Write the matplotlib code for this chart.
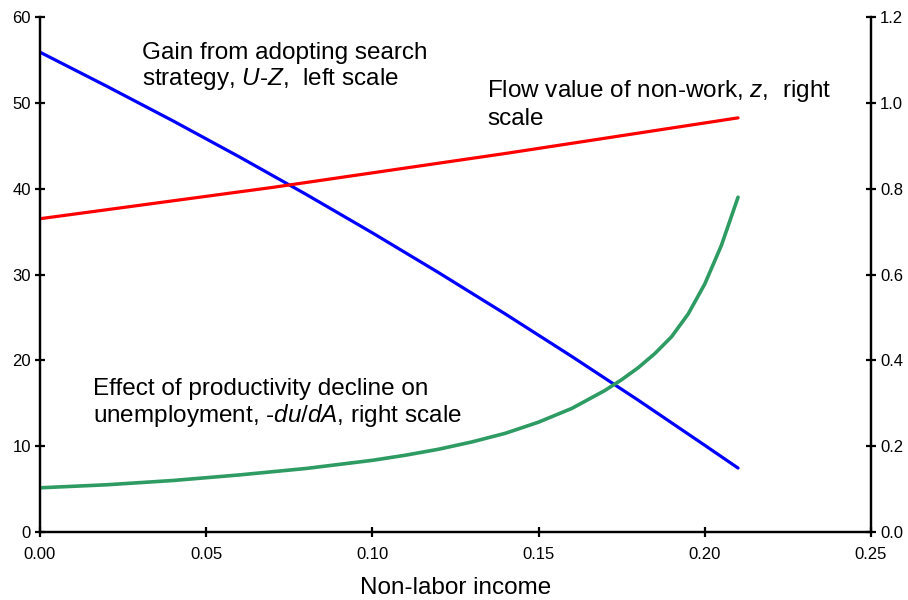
import matplotlib
matplotlib.use('Agg')
import matplotlib.pyplot as plt

plt.rcParams['font.family'] = ['Liberation Sans', 'DejaVu Sans']
plt.rcParams['mathtext.fontset'] = 'custom'
plt.rcParams['mathtext.rm'] = 'Liberation Sans'
plt.rcParams['mathtext.it'] = 'Liberation Sans:italic'

# gain from search strategy, U-Z (left scale)
gain_x = [0.00, 0.02, 0.04, 0.06, 0.08, 0.10, 0.12, 0.14, 0.16, 0.18, 0.20, 0.21]
gain_y = [55.9, 51.95, 47.9, 43.7, 39.35, 34.85, 30.2, 25.4, 20.45, 15.35, 10.1, 7.45]

# flow value of non-work, z (right scale)
flow_x = [0.00, 0.07, 0.14, 0.21]
flow_y = [0.730, 0.803, 0.882, 0.965]

# effect of productivity decline, -du/dA (right scale)
eff_x = [0.00, 0.02, 0.04, 0.06, 0.08, 0.10, 0.11, 0.12, 0.13, 0.14, 0.15, 0.16, 0.17,
         0.175, 0.18, 0.185, 0.19, 0.195, 0.20, 0.205, 0.21]
eff_y = [0.103, 0.110, 0.120, 0.133, 0.148, 0.167, 0.179, 0.193, 0.210, 0.230, 0.256, 0.288, 0.330,
         0.355, 0.383, 0.416, 0.455, 0.508, 0.578, 0.668, 0.780]

xticks = [0.00, 0.05, 0.10, 0.15, 0.20, 0.25]
left_ticks = [0, 10, 20, 30, 40, 50, 60]
right_ticks = [0.0, 0.2, 0.4, 0.6, 0.8, 1.0, 1.2]

fig = plt.figure(figsize=(9.08, 6), dpi=100)
ax = fig.add_axes([40 / 908, 68 / 600, 831 / 908, 515 / 600])
ax2 = ax.twinx()

ax.plot(gain_x, gain_y, color='#0000ff', lw=2.3, solid_capstyle='round')
ax2.plot(flow_x, flow_y, color='#ff0000', lw=2.3, solid_capstyle='round')
ax2.plot(eff_x, eff_y, color='#2e9b63', lw=2.6, solid_capstyle='round',
         solid_joinstyle='round')

ax.set_xlim(0, 0.25)
ax.set_ylim(0, 60)
ax2.set_ylim(0, 1.2)
ax.set_xticks(xticks)
ax.set_xticklabels(['%.2f' % t for t in xticks])
ax.set_yticks(left_ticks)
ax2.set_yticks(right_ticks)
ax2.set_yticklabels(['%.1f' % t for t in right_ticks])

for a in (ax, ax2):
    a.spines['top'].set_visible(False)
    for s in ('left', 'right', 'bottom'):
        a.spines[s].set_linewidth(1.6)
    a.tick_params(direction='inout', length=7, width=1.6, labelsize=12, pad=3)
ax.tick_params(axis='x', pad=7)

ax.set_xlabel('Non-labor income', fontsize=17.5, labelpad=11)

fs = 17.5
ax.text(0.0307, (532 - 59) / 8.583, 'Gain from adopting search', fontsize=fs, va='baseline')
ax.text(0.0307, (532 - 85) / 8.583, r'strategy, $\mathit{U}$-$\mathit{Z}$$\mathit{,}$  left scale', fontsize=fs, va='baseline')
ax.text(0.1345, (532 - 97) / 8.583, r'Flow value of non-work, $\mathit{z}$$\mathit{,}$  right', fontsize=fs, va='baseline')
ax.text(0.1345, (532 - 125) / 8.583, 'scale', fontsize=fs, va='baseline')
ax.text(0.0159, (532 - 395) / 8.583, 'Effect of productivity decline on', fontsize=fs, va='baseline')
ax.text(0.0159, (532 - 422) / 8.583, r'unemployment, -$\mathit{du/dA}$$\mathit{,}$ right scale', fontsize=fs, va='baseline')

fig.savefig('out.png', dpi=100)
